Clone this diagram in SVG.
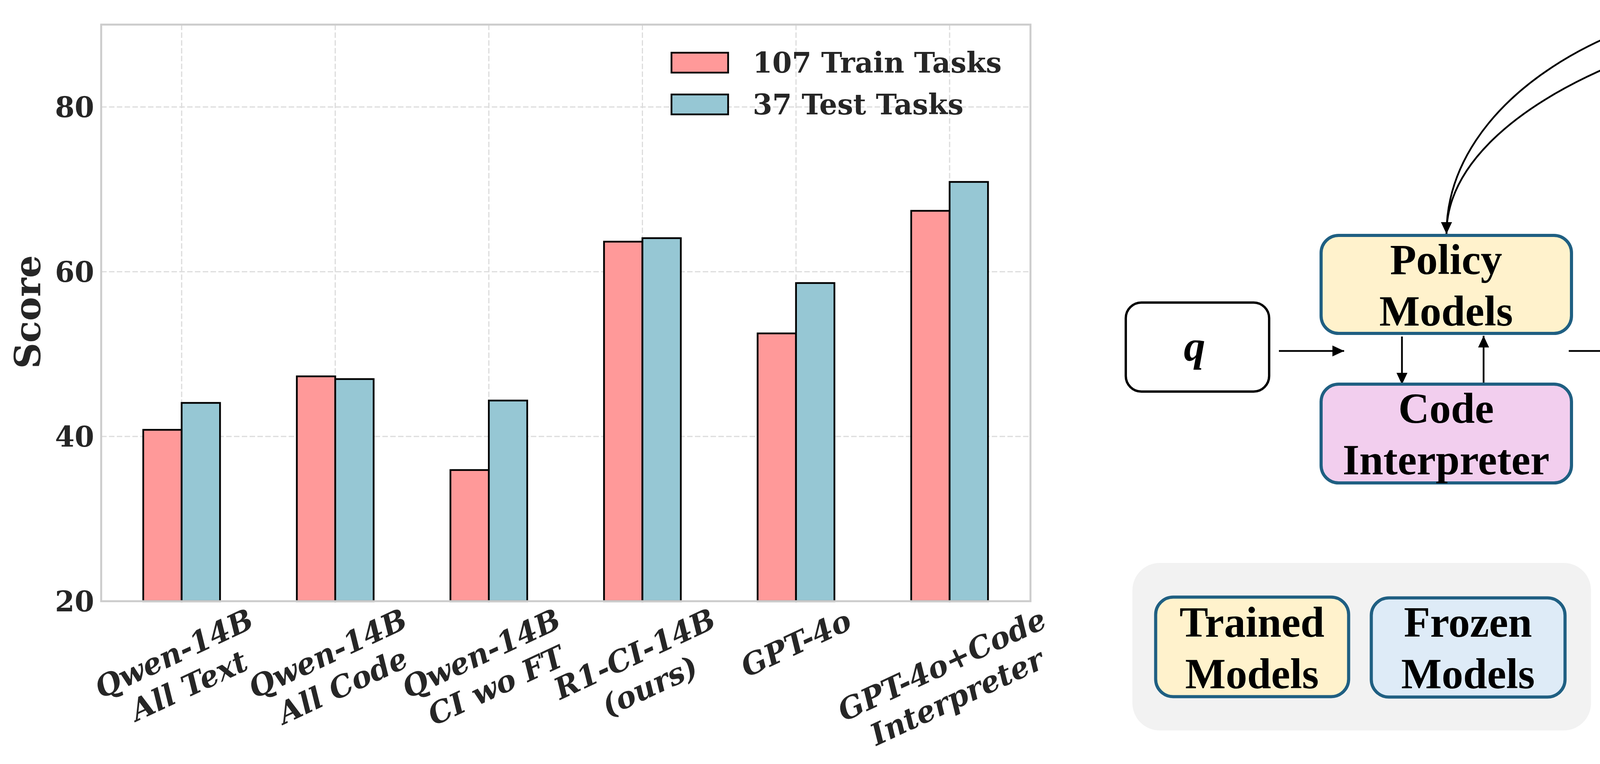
<svg xmlns="http://www.w3.org/2000/svg" width="6719" height="1957" viewBox="0 0 6719 1957">
<defs>
<style>
.ct{font-family:"DejaVu Serif",serif;font-weight:bold;fill:#262626}
.tick{font-size:72px}
.xl{font-size:76px;font-style:italic;text-anchor:middle}
.grid{stroke:#dcdcdc;stroke-width:3;stroke-dasharray:14 6;fill:none}
.train{fill:#FF9999;stroke:#000;stroke-width:4.5}
.test{fill:#96C7D4;stroke:#000;stroke-width:4.5}
.dt{font-family:"Liberation Serif","Times New Roman",serif;font-weight:bold;font-size:110px;fill:#000;text-anchor:middle}
.it{font-style:italic}
.sub{font-size:78px}
.wbox{fill:#fff;stroke:#000;stroke-width:6}
.mbox{stroke:#1F5F82;stroke-width:8}
.bg{fill:#F2F2F2}
.con{fill:none;stroke:#000;stroke-width:4.5}
</style>
<marker id="ah" markerUnits="userSpaceOnUse" markerWidth="30" markerHeight="28" viewBox="0 0 30 28" refX="30" refY="14" orient="auto">
<path d="M0,0 L30,14 L0,28 z" fill="#000"/>
</marker>
</defs>
<rect width="6719" height="1957" fill="#fff"/>

<g id="chart">
<g id="grid">
<line class="grid" x1="465" y1="63" x2="465" y2="1540"/>
<line class="grid" x1="858.2" y1="63" x2="858.2" y2="1540"/>
<line class="grid" x1="1251.4" y1="63" x2="1251.4" y2="1540"/>
<line class="grid" x1="1644.6" y1="63" x2="1644.6" y2="1540"/>
<line class="grid" x1="2037.8" y1="63" x2="2037.8" y2="1540"/>
<line class="grid" x1="2431" y1="63" x2="2431" y2="1540"/>
<line class="grid" x1="259" y1="1118" x2="2638" y2="1118"/>
<line class="grid" x1="259" y1="696" x2="2638" y2="696"/>
<line class="grid" x1="259" y1="274" x2="2638" y2="274"/>
</g>
<g id="bars">
<rect class="train" x="366.7" y="1101" width="98.3" height="439"/>
<rect class="test" x="465" y="1032" width="98.3" height="508"/>
<rect class="train" x="759.9" y="964" width="98.3" height="576"/>
<rect class="test" x="858.2" y="971" width="98.3" height="569"/>
<rect class="train" x="1153.1" y="1204" width="98.3" height="336"/>
<rect class="test" x="1251.4" y="1026" width="98.3" height="514"/>
<rect class="train" x="1546.3" y="619" width="98.3" height="921"/>
<rect class="test" x="1644.6" y="610" width="98.3" height="930"/>
<rect class="train" x="1939.5" y="854" width="98.3" height="686"/>
<rect class="test" x="2037.8" y="725" width="98.3" height="815"/>
<rect class="train" x="2332.7" y="540" width="98.3" height="1000"/>
<rect class="test" x="2431" y="466" width="98.3" height="1074"/>
</g>
<rect id="frame" x="259" y="63" width="2379" height="1477" fill="none" stroke="#cccccc" stroke-width="5"/>
<g id="yticks" class="ct tick" text-anchor="end">
<text x="241" y="1566">20</text>
<text x="241" y="1144">40</text>
<text x="241" y="722">60</text>
<text x="241" y="300">80</text>
</g>
<text class="ct" font-size="92" text-anchor="middle" transform="translate(103,799) rotate(-90)">Score</text>
<g id="legend" class="ct tick">
<rect class="train" x="1719" y="135" width="145" height="51"/>
<rect class="test" x="1719" y="242" width="145" height="51"/>
<text x="1927" y="186">107 Train Tasks</text>
<text x="1927" y="293">37 Test Tasks</text>
</g>
<g id="xlabels" class="ct xl">
<g transform="translate(456.5,1698) rotate(-25)"><text x="0" y="0">Qwen-14B</text><text x="0" y="91">All Text</text></g>
<g transform="translate(850,1698) rotate(-25)"><text x="0" y="0">Qwen-14B</text><text x="0" y="91">All Code</text></g>
<g transform="translate(1243,1698) rotate(-25)"><text x="0" y="0">Qwen-14B</text><text x="0" y="91">CI wo FT</text></g>
<g transform="translate(1636,1699) rotate(-25)"><text x="0" y="0">R1-CI-14B</text><text x="0" y="91">(ours)</text></g>
<g transform="translate(2049,1672) rotate(-25)"><text x="0" y="0">GPT-4o</text></g>
<g transform="translate(2422.5,1727) rotate(-25)"><text x="0" y="0">GPT-4o+Code</text><text x="0" y="91">Interpreter</text></g>
</g>
</g>

<g id="groups">
<rect id="legend-bg" class="bg" x="2899" y="1442" width="1174" height="429" rx="70"/>
<rect id="o-group" class="bg" x="4192" y="228" width="711" height="1246" rx="120"/>
<rect id="r-group" class="bg" x="5815" y="228" width="711" height="1246" rx="120"/>
</g>

<g id="connectors">
<line class="con" x1="3274" y1="899" x2="3441" y2="899" marker-end="url(#ah)"/>
<line class="con" x1="3589" y1="862" x2="3589" y2="985" marker-end="url(#ah)"/>
<line class="con" x1="3798" y1="980" x2="3798" y2="860" marker-end="url(#ah)"/>
<line class="con" x1="4016" y1="899" x2="4183" y2="899" marker-end="url(#ah)"/>
<line class="con" x1="4905" y1="893" x2="5030" y2="893" marker-end="url(#ah)"/>
<line class="con" x1="5667" y1="893" x2="5815" y2="893" marker-end="url(#ah)"/>
<path class="con" d="M5351,357 C5351,100 4800,7 4525,7 C4150,7 3703,250 3703,599" marker-end="url(#ah)"/>
<path class="con" d="M6172,228 C6172,100 5600,5 4936,5 C4400,5 3703,250 3703,599" marker-end="url(#ah)"/>
</g>

<g id="node-q">
<rect class="wbox" x="2882" y="775" width="367" height="228" rx="40"/>
<text class="dt it" x="3058" y="924">q</text>
</g>
<g id="node-policy">
<rect class="mbox" fill="#FFF2CC" x="3382" y="603" width="641" height="251" rx="45"/>
<text class="dt" x="3702" y="702">Policy</text>
<text class="dt" x="3702" y="834">Models</text>
</g>
<g id="node-code">
<rect class="mbox" fill="#F2CEEE" x="3382" y="984" width="641" height="253" rx="45"/>
<text class="dt" x="3702" y="1083">Code</text>
<text class="dt" x="3702" y="1215">Interpreter</text>
</g>
<g id="node-o1">
<rect class="wbox" x="4365" y="358" width="367" height="228" rx="40"/>
<text class="dt" x="4549" y="509"><tspan class="it">O</tspan><tspan class="sub" dy="22">1</tspan></text>
</g>
<g id="node-o2">
<rect class="wbox" x="4365" y="684" width="367" height="228" rx="40"/>
<text class="dt" x="4549" y="835"><tspan class="it">O</tspan><tspan class="sub" dy="22">2</tspan></text>
</g>
<text id="o-dots" class="dt" x="4548" y="1082">...</text>
<g id="node-og">
<rect class="wbox" x="4365" y="1175" width="367" height="228" rx="40"/>
<text class="dt" x="4549" y="1324"><tspan class="it">O</tspan><tspan class="sub it" dy="22">G</tspan></text>
</g>
<g id="node-ref">
<rect class="mbox" fill="#DEEBF7" x="5034" y="361" width="629" height="315" rx="50"/>
<text class="dt" x="5348" y="491">Reference</text>
<text class="dt" x="5348" y="623">Model</text>
</g>
<g id="node-rule">
<rect class="mbox" fill="#DEEBF7" x="5034" y="705" width="629" height="313" rx="50"/>
<text class="dt" x="5348" y="833">Rule-based</text>
<text class="dt" x="5348" y="964">Reward</text>
</g>
<text id="kl" class="dt it" x="5146" y="268">KL</text>
<g id="node-r1">
<rect class="wbox" x="5952" y="365" width="437" height="228" rx="40"/>
<text class="dt" x="6170" y="516"><tspan class="it">r</tspan><tspan class="sub" dy="22">1</tspan><tspan dy="-22" dx="10">/</tspan><tspan class="it" dx="8">A</tspan><tspan class="sub" dy="22">1</tspan></text>
</g>
<g id="node-r2">
<rect class="wbox" x="5952" y="663" width="437" height="228" rx="40"/>
<text class="dt" x="6170" y="815"><tspan class="it">r</tspan><tspan class="sub" dy="22">2</tspan><tspan dy="-22" dx="10">/</tspan><tspan class="it" dx="8">A</tspan><tspan class="sub" dy="22">2</tspan></text>
</g>
<text id="r-dots" class="dt" x="6168" y="1082">...</text>
<g id="node-rg">
<rect class="wbox" x="5952" y="1178" width="437" height="228" rx="40"/>
<text class="dt" x="6170" y="1328"><tspan class="it">r</tspan><tspan class="sub it" dy="22">G</tspan><tspan dy="-22" dx="10">/</tspan><tspan class="it" dx="8">A</tspan><tspan class="sub it" dy="22">G</tspan></text>
</g>
<g id="node-group-computation">
<rect class="wbox" x="5639" y="1446" width="1062" height="362" rx="62"/>
<text class="dt" x="6170" y="1666">Group Computation</text>
</g>
<g id="node-trained">
<rect class="mbox" stroke-width="9" fill="#FFF2CC" x="2958.5" y="1529.5" width="494" height="255" rx="45"/>
<text class="dt" x="3205" y="1631">Trained</text>
<text class="dt" x="3205" y="1763">Models</text>
</g>
<g id="node-frozen">
<rect class="mbox" stroke-width="9" fill="#DEEBF7" x="3510.5" y="1531.5" width="496" height="254" rx="45"/>
<text class="dt" x="3758" y="1631">Frozen</text>
<text class="dt" x="3758" y="1763">Models</text>
</g>
</svg>
